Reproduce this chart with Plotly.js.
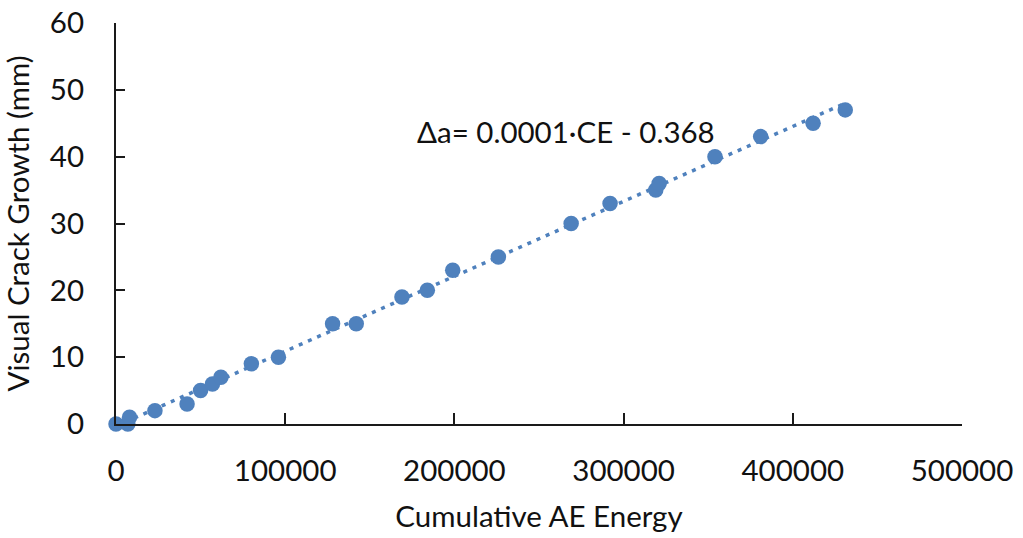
<!DOCTYPE html>
<html>
<head>
<meta charset="utf-8">
<script src="https://cdn.plot.ly/plotly-3.0.1.min.js"></script>
<style>html,body{margin:0;padding:0;background:#fff;}#chart{width:1023px;height:538px;}</style>
</head>
<body>
<div id="chart"></div>
<script>
// Cumulative AE energy (x) and visual crack growth in mm (y)
const aeEnergy = [0, 7000, 8000, 23000, 42000, 50000, 57000, 62000, 80000, 96000,
  128000, 142000, 169000, 184000, 199000, 226000, 269000, 292000, 319000, 321000,
  354000, 381000, 412000, 431000];
const crackGrowth = [0, 0, 1, 2, 3, 5, 6, 7, 9, 10,
  15, 15, 19, 20, 23, 25, 30, 33, 35, 36,
  40, 43, 45, 47];
const xTicks = [0, 100000, 200000, 300000, 400000, 500000];
const yTicks = [0, 10, 20, 30, 40, 50, 60];
const equationText = 'Δa= 0.0001·CE - 0.368';

// least-squares linear trendline (as Excel computes it)
const n = aeEnergy.length;
let sx = 0, sy = 0, sxx = 0, sxy = 0;
for (let i = 0; i < n; i++) {
  sx += aeEnergy[i]; sy += crackGrowth[i];
  sxx += aeEnergy[i] * aeEnergy[i]; sxy += aeEnergy[i] * crackGrowth[i];
}
const slope = (n * sxy - sx * sy) / (n * sxx - sx * sx);
const intercept = (sy - slope * sx) / n;
const xMin = Math.min(...aeEnergy), xMax = Math.max(...aeEnergy);
const trendX = [xMin, xMax];
const trendY = trendX.map(v => slope * v + intercept);

const blue = '#4f81bd';
const font = 'Lato, "Open Sans", sans-serif';
const fs = 29.5;

const data = [
  {x: trendX, y: trendY, type: 'scatter', mode: 'lines',
   line: {color: blue, width: 3.5, dash: '4px,6px'}, hoverinfo: 'skip', cliponaxis: false},
  {x: aeEnergy, y: crackGrowth, type: 'scatter', mode: 'markers',
   marker: {color: blue, size: 15.5}, cliponaxis: false}
];

const layout = {
  width: 1023, height: 538,
  margin: {l: 116, r: 61, t: 23, b: 114},
  paper_bgcolor: '#fff', plot_bgcolor: '#fff',
  showlegend: false,
  font: {family: font, size: fs, color: '#000'},
  xaxis: {
    range: [0, 500000], tickvals: xTicks, ticktext: xTicks.map(String),
    showgrid: false, zeroline: false, showline: true, linecolor: '#1a1a1a', linewidth: 2,
    ticks: 'inside', ticklen: 11, tickwidth: 2, tickcolor: '#1a1a1a',
    ticklabelstandoff: 20,
    tickfont: {family: font, size: fs, color: '#111'},
    title: {text: 'Cumulative AE Energy', font: {family: font, size: fs, color: '#111'}, standoff: 20}
  },
  yaxis: {
    range: [0, 60], tickvals: yTicks, ticktext: yTicks.map(String),
    showgrid: false, zeroline: false, showline: true, linecolor: '#1a1a1a', linewidth: 2,
    ticks: 'inside', ticklen: 9, tickwidth: 2, tickcolor: '#1a1a1a',
    ticklabelstandoff: 24,
    tickfont: {family: font, size: fs, color: '#111'},
    title: {text: 'Visual Crack Growth (mm)', font: {family: font, size: fs, color: '#111'}, standoff: 13}
  },
  annotations: [{
    x: 0.353, y: 0.73, xref: 'paper', yref: 'paper', xanchor: 'left', yanchor: 'middle',
    text: equationText, showarrow: false,
    font: {family: font, size: fs, color: '#111'}
  }]
};

Plotly.newPlot('chart', data, layout, {displayModeBar: false, staticPlot: true});
</script>
</body>
</html>
